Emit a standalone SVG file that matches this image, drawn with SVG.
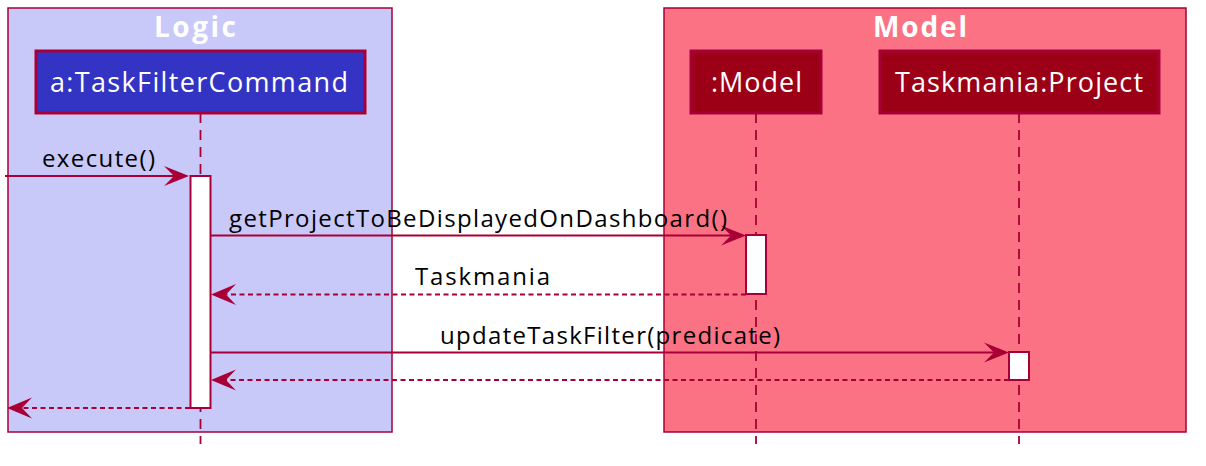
<svg xmlns="http://www.w3.org/2000/svg" width="1206" height="466" viewBox="0 0 1206 466">
<style>
.box{stroke:#A80036;stroke-width:1.5}
.title{font-family:"Open Sans","DejaVu Sans",sans-serif;font-weight:bold;font-size:28px;fill:#FFFFFF}
.node rect{stroke:#A80036;stroke-width:3}
.ntext{font-family:"Open Sans","DejaVu Sans",sans-serif;font-size:27px;fill:#FFFFFF}
.life{stroke:#A80036;stroke-width:1.8;stroke-dasharray:10,7;fill:none}
.act{fill:#FFFFFF;stroke:#A80036;stroke-width:2}
.msg{stroke:#A80036;stroke-width:1.8;fill:none}
.ret{stroke:#A80036;stroke-width:1.8;fill:none;stroke-dasharray:5,3.5}
.head{fill:#A80036;stroke:none}
.label{font-family:"Open Sans","DejaVu Sans",sans-serif;font-size:24px;fill:#000000}
</style>
<rect width="1206" height="466" fill="#FFFFFF"/>
<g id="box-logic">
<rect class="box" x="8" y="8" width="384" height="424" fill="#C8C8F9"/>
<text class="title" x="154" y="37" textLength="82">Logic</text>
</g>
<g id="box-model">
<rect class="box" x="664" y="8" width="522" height="424" fill="#FB7284"/>
<text class="title" x="873" y="37" textLength="94">Model</text>
</g>
<g id="lifelines">
<line class="life" x1="200.5" y1="113" x2="200.5" y2="444"/>
<line class="life" x1="756" y1="113" x2="756" y2="444"/>
<line class="life" x1="1019" y1="113" x2="1019" y2="444"/>
</g>
<g id="node-taskfiltercommand" class="node">
<rect x="36" y="51" width="329" height="62" fill="#3333C4"/>
<text class="ntext" x="50" y="92" textLength="298">a:TaskFilterCommand</text>
</g>
<g id="node-model" class="node">
<rect x="691" y="51" width="130" height="62" fill="#9C0016"/>
<text class="ntext" x="711" y="92" textLength="91">:Model</text>
</g>
<g id="node-project" class="node">
<rect x="880" y="51" width="279" height="62" fill="#9C0016"/>
<text class="ntext" x="895" y="92" textLength="248">Taskmania:Project</text>
</g>
<g id="activations">
<rect class="act" x="190.5" y="176" width="20" height="232"/>
<rect class="act" x="746" y="235" width="20" height="59"/>
<rect class="act" x="1009" y="352" width="20" height="28"/>
</g>
<g id="connectors">
<line class="msg" x1="5" y1="176" x2="180" y2="176"/>
<polygon class="head" points="189,176 164,166 174,176 164,186"/>
<text class="label" x="42" y="167" textLength="113">execute()</text>
<line class="msg" x1="211" y1="235.5" x2="737" y2="235.5"/>
<polygon class="head" points="746,235.5 721,225.5 731,235.5 721,245.5"/>
<text class="label" x="229" y="227" textLength="498">getProjectToBeDisplayedOnDashboard()</text>
<line class="ret" x1="746" y1="294.5" x2="222" y2="294.5"/>
<polygon class="head" points="211,294.5 236,284 226,294.5 236,305"/>
<text class="label" x="415" y="285" textLength="135">Taskmania</text>
<line class="msg" x1="211" y1="352.5" x2="1000" y2="352.5"/>
<polygon class="head" points="1009,352.5 984,342.5 994,352.5 984,362.5"/>
<text class="label" x="440" y="344" textLength="340">updateTaskFilter(predicate)</text>
<line class="ret" x1="1009" y1="380" x2="222" y2="380"/>
<polygon class="head" points="211,380 236,369.5 226,380 236,390.5"/>
<line class="ret" x1="190" y1="408" x2="18" y2="408"/>
<polygon class="head" points="7,408 32,397.5 22,408 32,418.5"/>
</g>
</svg>
